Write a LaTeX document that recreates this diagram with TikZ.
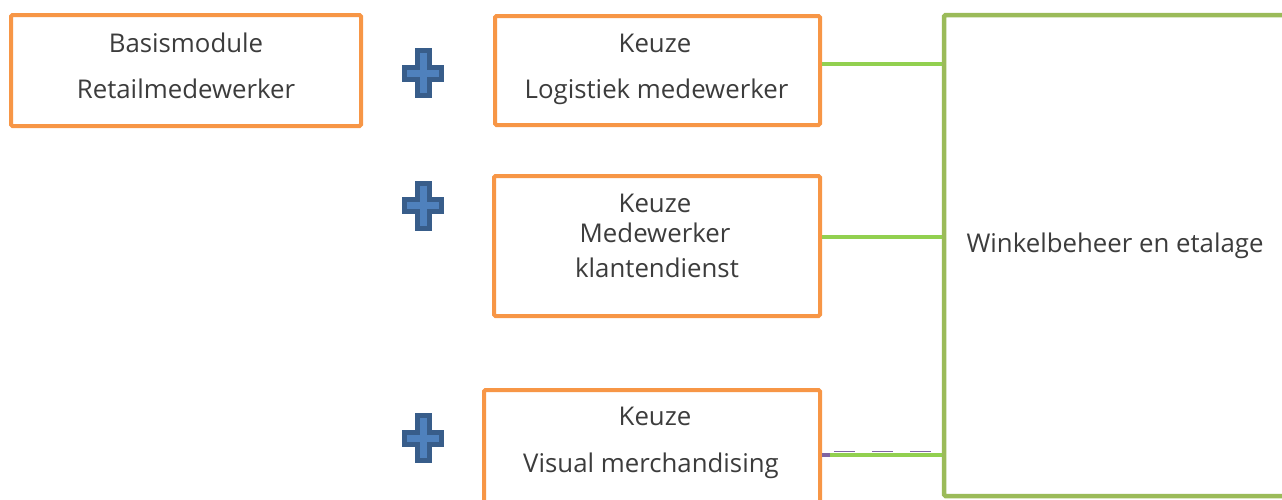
\documentclass[tikz,border=0pt]{standalone}
\usepackage{fontspec}
\setmainfont{Open Sans}
\definecolor{boxorange}{HTML}{F79646}
\definecolor{boxgreen}{HTML}{9BBB59}
\definecolor{linkgreen}{HTML}{92D050}
\definecolor{linkpurple}{HTML}{8064A2}
\definecolor{plusfill}{HTML}{4F81BD}
\definecolor{plusedge}{HTML}{385D8A}
\definecolor{txt}{HTML}{3C3C3C}
\tikzset{
  modbox/.style={draw=boxorange, line width=4pt, fill=white, rounded corners=1.5pt, inner sep=0pt},
  bigbox/.style={draw=boxgreen, line width=4.5pt, fill=white, rounded corners=1.5pt, inner sep=0pt},
  label/.style={text=txt, font=\fontsize{25.8}{30}\selectfont, anchor=base, inner sep=0pt},
  link/.style={draw=linkgreen, line width=4pt},
  plussign/.pic={
    \filldraw[fill=plusfill, draw=plusedge, line width=5pt, line join=miter]
      (-6,-22.5) -- (6,-22.5) -- (6,-6) -- (18.5,-6) -- (18.5,6) -- (6,6)
      -- (6,22.5) -- (-6,22.5) -- (-6,6) -- (-18.5,6) -- (-18.5,-6) -- (-6,-6) -- cycle;
  }
}
\begin{document}
\begin{tikzpicture}[x=1pt,y=-1pt]
\useasboundingbox (0,0) rectangle (1282,499);
\clip (0,0) rectangle (1282,499);

% module boxes
\node[modbox, minimum width=350pt, minimum height=111pt] (base) at (186,70.5) {};
\node[modbox, minimum width=325pt, minimum height=109pt] (logi) at (657.5,70.5) {};
\node[modbox, minimum width=326pt, minimum height=140pt] (klant) at (657,246) {};
\node[modbox, minimum width=336pt, minimum height=124pt] (visual) at (652,452) {};
\node[bigbox, minimum width=360pt, minimum height=481pt] (winkel) at (1124,255.5) {};

% box texts
\node[label] (baseA) at (186,52) {Basismodule};
\node[label] (baseB) at (186,98) {Retailmedewerker};
\node[label] (logiA) at (655,52) {Keuze};
\node[label] (logiB) at (656.5,98) {Logistiek medewerker};
\node[label] (klantA) at (655,212) {Keuze};
\node[label] (klantB) at (655,242) {Medewerker};
\node[label] (klantC) at (657,277) {klantendienst};
\node[label] (visualA) at (655,425) {Keuze};
\node[label] (visualB) at (651,472) {Visual merchandising};
\node[label] (winkelT) at (1115,252) {Winkelbeheer en etalage};

% plus signs
\pic at (423,73) {plussign};
\pic at (423,205.5) {plussign};
\pic at (423,438) {plussign};

% connectors
\draw[link] (logi.east |- 0,64) -- (winkel.west |- 0,64);
\draw[link] (klant.east |- 0,237) -- (winkel.west |- 0,237);
\draw[link] (visual.east |- 0,454.5) -- (winkel.west |- 0,454.5);
\draw[draw=linkpurple, line width=4pt] (visual.east |- 0,454.5) -- ++(8,0);
\draw[draw=linkpurple, line width=1.2pt, dash pattern=on 21pt off 17pt, dash phase=-12pt]
  (visual.east |- 0,451.5) -- (winkel.west |- 0,451.5);
\end{tikzpicture}
\end{document}
